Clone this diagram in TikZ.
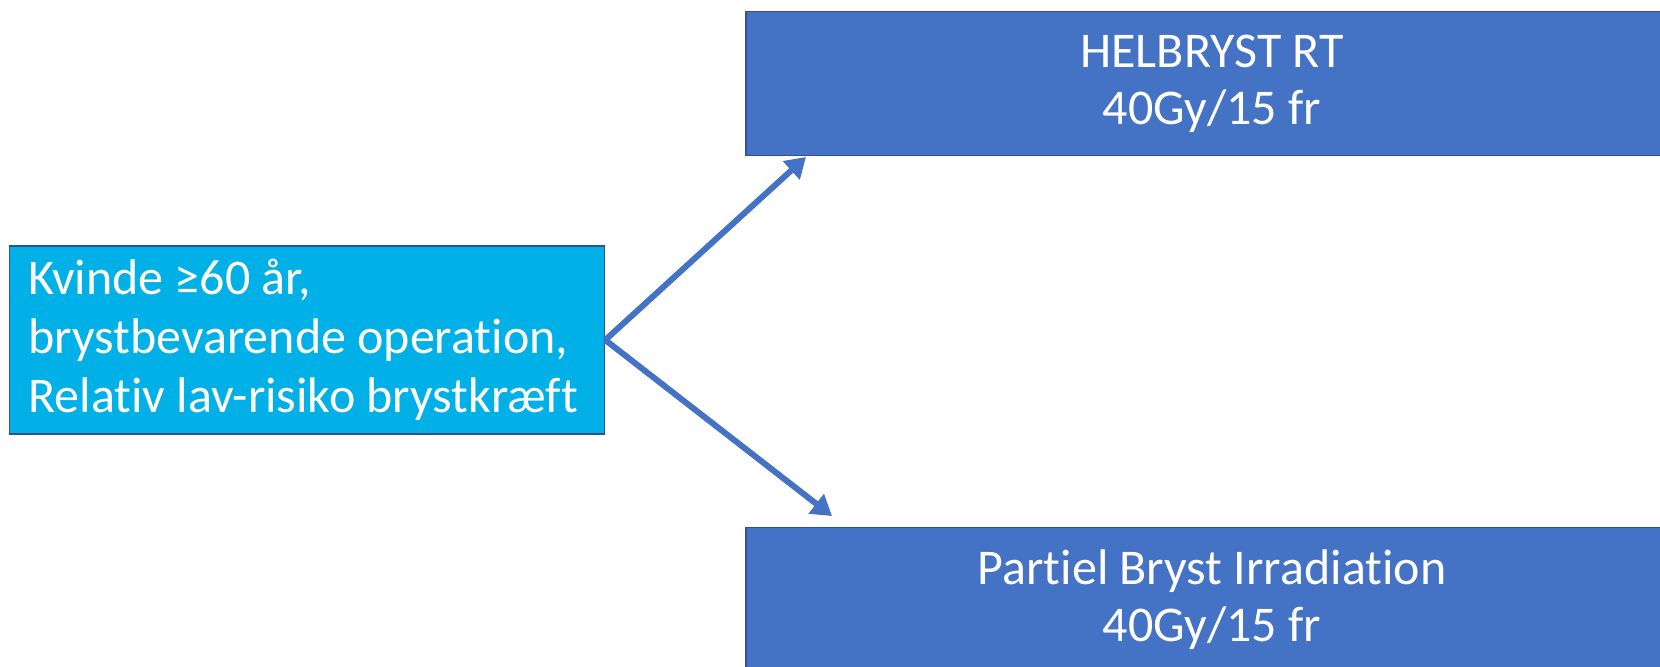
\documentclass[tikz,border=0pt]{standalone}
\usepackage{fontspec}
\setmainfont[Ligatures=NoCommon]{Carlito}
\usetikzlibrary{arrows.meta}
\definecolor{startfill}{RGB}{0,176,230}
\definecolor{dosefill}{RGB}{68,114,196}
\definecolor{edgeblue}{RGB}{47,82,143}

\tikzset{
  box/.style     = {shape=rectangle, draw=edgeblue, line width=0.75pt,
                    text=white, inner sep=0pt},
  patient/.style = {box, fill=startfill, align=flush left,
                    font=\fontsize{25}{29.5}\selectfont,
                    inner xsep=9.5pt, text width=278.5pt,
                    minimum width=297.5pt, minimum height=94pt},
  dose/.style    = {box, fill=dosefill, align=center,
                    font=\fontsize{25}{28.5}\selectfont,
                    minimum width=466pt, minimum height=72pt},
  choice/.style  = {draw=dosefill, line width=3pt,
                    -{Triangle[length=10pt,width=12pt]}}
}

\begin{document}
\begin{tikzpicture}[x=0.5pt,y=-0.5pt]
\clip (0,0) rectangle (1660,667);
\fill[white] (0,0) rectangle (1660,667);
\node[patient] (kvinde) at (307,340)
  {Kvinde ≥60 år,\\brystbevarende operation,\\Relativ lav-risiko brystkræft};
\node[dose] (helbryst) at (1212,83.6) {HELBRYST RT\\40Gy/15 fr};
\node[dose] (partiel) at (1212,599.7) {Partiel Bryst Irradiation\\40Gy/15 fr};
% arrow heads stop just short of the boxes
\coordinate (tophead) at (806,157);
\coordinate (lowhead) at (832,516);
\draw[choice] (kvinde.east) -- (tophead);
\draw[choice] (kvinde.east) -- (lowhead);
\end{tikzpicture}
\end{document}
